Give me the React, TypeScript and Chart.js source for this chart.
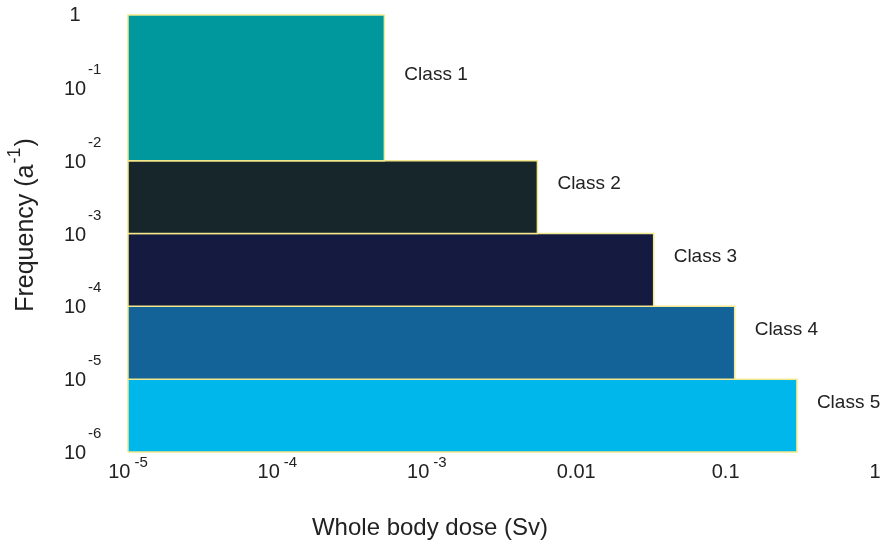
import { useEffect, useRef } from "react";
import { Chart, registerables } from "chart.js";

Chart.register(...registerables);

// ---- data ----
const classNames = ["Class 1", "Class 2", "Class 3", "Class 4", "Class 5"];
const doseStart = [1e-5, 1e-5, 1e-5, 1e-5, 1e-5];
const doseEnd = [5.2e-4, 5.5e-3, 0.033, 0.115, 0.3];
const freqHigh = [1, 1e-2, 1e-3, 1e-4, 1e-5];
const freqLow = [1e-2, 1e-3, 1e-4, 1e-5, 1e-6];
const classColors = ["#00979d", "#17262b", "#151a40", "#136399", "#00b7eb"];

const xTickValues = [1e-5, 1e-4, 1e-3, 0.01, 0.1, 1];
const xTickBase = ["10", "10", "10", "0.01", "0.1", "1"];
const xTickExp = ["-5", "-4", "-3", "", "", ""];

const yTickValues = [1, 1e-1, 1e-2, 1e-3, 1e-4, 1e-5, 1e-6];
const yTickBase = ["1", "10", "10", "10", "10", "10", "10"];
const yTickExp = ["", "-1", "-2", "-3", "-4", "-5", "-6"];

const xTitle = "Whole body dose (Sv)";
const yTitleMain = "Frequency (a";
const yTitleExp = "-1";
const yTitleEnd = ")";

const FONT = '"Liberation Sans", Arial, Helvetica, sans-serif';
const TEXT = "#222222";

const labelsPlugin = {
  id: "customLabels",
  afterDraw(chart: any) {
    const ctx: CanvasRenderingContext2D = chart.ctx;
    const xs = chart.scales.x;
    const ys = chart.scales.y;
    ctx.save();
    ctx.fillStyle = TEXT;
    ctx.textBaseline = "alphabetic";
    ctx.textAlign = "left";

    // x tick labels
    xTickValues.forEach((v, i) => {
      const px = xs.getPixelForValue(v);
      ctx.font = `20px ${FONT}`;
      const bw = ctx.measureText(xTickBase[i]).width;
      ctx.font = `15px ${FONT}`;
      const ew = xTickExp[i] ? ctx.measureText(xTickExp[i]).width + 4 : 0;
      const start = px - (bw + ew) / 2;
      ctx.font = `20px ${FONT}`;
      ctx.fillText(xTickBase[i], start, 478);
      if (xTickExp[i]) {
        ctx.font = `15px ${FONT}`;
        ctx.fillText(xTickExp[i], start + bw + 4, 467);
      }
    });

    // y tick labels
    yTickValues.forEach((v, i) => {
      const py = ys.getPixelForValue(v);
      ctx.font = `20px ${FONT}`;
      const bw = ctx.measureText(yTickBase[i]).width;
      const left = 75 - bw / 2;
      const baseline = yTickExp[i] ? py + 7 : py + 6;
      ctx.fillText(yTickBase[i], left, baseline);
      if (yTickExp[i]) {
        ctx.font = `15px ${FONT}`;
        ctx.fillText(yTickExp[i], left + bw + 2, baseline - 21);
      }
    });

    // class labels
    ctx.font = `19px ${FONT}`;
    ctx.textBaseline = "middle";
    classNames.forEach((name, i) => {
      const px = xs.getPixelForValue(doseEnd[i]);
      const py = ys.getPixelForValue(Math.sqrt(freqHigh[i] * freqLow[i]));
      ctx.fillText(name, px + 20, py - 13);
    });

    // x title
    ctx.textBaseline = "alphabetic";
    ctx.textAlign = "center";
    ctx.font = `24px ${FONT}`;
    ctx.fillText(xTitle, 430, 535);

    // y title (rotated)
    ctx.translate(33, 225);
    ctx.rotate(-Math.PI / 2);
    ctx.textAlign = "left";
    ctx.font = `25px ${FONT}`;
    const w1 = ctx.measureText(yTitleMain).width;
    const w3 = ctx.measureText(yTitleEnd).width;
    ctx.font = `18px ${FONT}`;
    const w2 = ctx.measureText(yTitleExp).width;
    const total = w1 + w2 + w3 + 2;
    let x0 = -total / 2;
    ctx.font = `25px ${FONT}`;
    ctx.fillText(yTitleMain, x0, 0);
    x0 += w1 + 1;
    ctx.font = `18px ${FONT}`;
    ctx.fillText(yTitleExp, x0, -13);
    x0 += w2 + 1;
    ctx.font = `25px ${FONT}`;
    ctx.fillText(yTitleEnd, x0, 0);

    ctx.restore();
  },
};

export default function App() {
  const ref = useRef<HTMLCanvasElement>(null);

  useEffect(() => {
    if (!ref.current) return;
    const datasets = classNames.map((name, i) => ({
      label: name,
      data: [
        { x: doseStart[i], y: freqLow[i] },
        { x: doseEnd[i], y: freqLow[i] },
        { x: doseEnd[i], y: freqHigh[i] },
        { x: doseStart[i], y: freqHigh[i] },
        { x: doseStart[i], y: freqLow[i] },
      ],
      showLine: true,
      fill: "shape",
      backgroundColor: classColors[i],
      borderColor: "#f3e88c",
      borderWidth: 1.5,
      pointRadius: 0,
      pointHoverRadius: 0,
      tension: 0,
      clip: false,
    }));

    const chart = new Chart(ref.current, {
      type: "scatter",
      data: { datasets: datasets as any },
      options: {
        animation: false,
        responsive: false,
        events: [],
        layout: { padding: { left: 128, right: 6, top: 15, bottom: 91 } },
        plugins: {
          legend: { display: false },
          tooltip: { enabled: false },
        },
        scales: {
          x: { type: "logarithmic", min: 1e-5, max: 1, display: false },
          y: { type: "logarithmic", min: 1e-6, max: 1, display: false },
        },
      },
      plugins: [labelsPlugin],
    });
    return () => chart.destroy();
  }, []);

  return (
    <div style={{ position: "absolute", left: 0, top: 0, width: 881, height: 543, background: "#fff" }}>
      <canvas ref={ref} width={881} height={543} style={{ display: "block" }} />
    </div>
  );
}
